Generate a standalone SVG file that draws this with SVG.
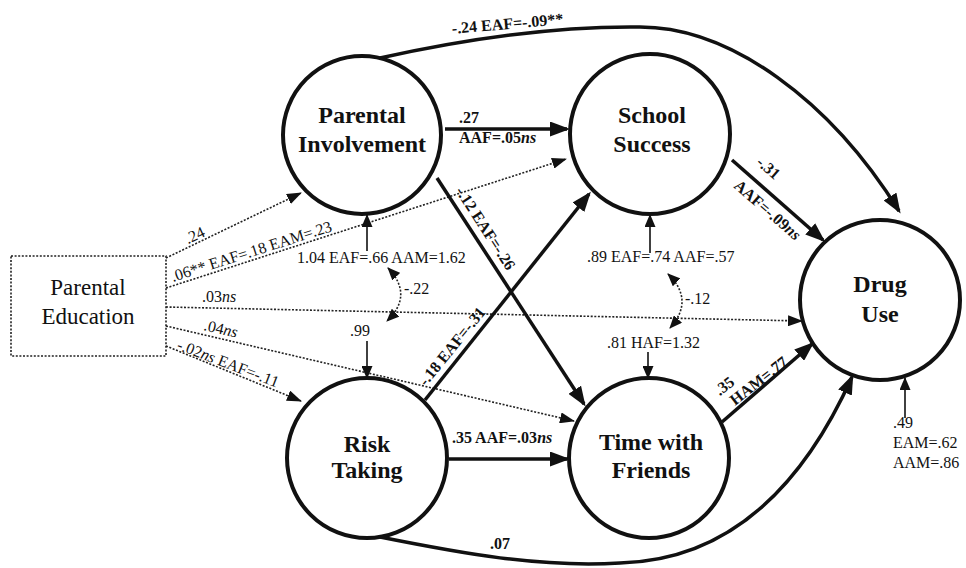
<svg xmlns="http://www.w3.org/2000/svg" width="966" height="568" viewBox="0 0 966 568" font-family="'Liberation Serif', 'DejaVu Serif', serif">
<style>
text{font-family:"Liberation Serif","DejaVu Serif",serif;fill:#111}
.node{fill:#fff;stroke:#111;stroke-width:4}
.nl{font-size:24px;font-weight:bold;text-anchor:middle}
.pl{font-size:23px;text-anchor:middle}
.bold{fill:none;stroke:#111;stroke-width:3.5}
.dot{fill:none;stroke:#222;stroke-width:1.6;stroke-dasharray:2 1.6}
.err{fill:none;stroke:#111;stroke-width:1.6}
.lb{font-size:16px;font-weight:bold}
.lr{font-size:16px}
.i{font-style:italic}
</style>
<defs>
<marker id="ab" markerUnits="userSpaceOnUse" markerWidth="20" markerHeight="15" refX="17" refY="7.5" orient="auto"><path d="M0,0 L20,7.5 L0,15 z" fill="#111"/></marker>
<marker id="ad" markerUnits="userSpaceOnUse" markerWidth="15" markerHeight="11" refX="14" refY="5.5" orient="auto"><path d="M0,0 L15,5.5 L0,11 z" fill="#111"/></marker>
<marker id="ae" markerUnits="userSpaceOnUse" markerWidth="13" markerHeight="11" refX="12" refY="5.5" orient="auto-start-reverse"><path d="M0,0 L13,5.5 L0,11 z" fill="#111"/></marker>
</defs>

<g id="parental-education">
<rect x="11" y="256" width="155" height="100" fill="#fff" stroke="#222" stroke-width="1.6" stroke-dasharray="2 1.6"/>
<text class="pl" x="88" y="295">Parental</text>
<text class="pl" x="88" y="324">Education</text>
</g>
<g id="parental-involvement">
<circle class="node" cx="362" cy="135" r="79"/>
<text class="nl" x="362" y="123">Parental</text>
<text class="nl" x="362" y="152">Involvement</text>
</g>
<g id="school-success">
<circle class="node" cx="650" cy="134" r="80"/>
<text class="nl" x="652" y="123">School</text>
<text class="nl" x="652" y="152">Success</text>
</g>
<g id="risk-taking">
<circle class="node" cx="367" cy="458" r="80"/>
<text class="nl" x="367" y="452">Risk</text>
<text class="nl" x="367" y="478">Taking</text>
</g>
<g id="time-with-friends">
<circle class="node" cx="649" cy="458" r="80"/>
<text class="nl" x="651" y="450">Time with</text>
<text class="nl" x="651" y="478">Friends</text>
</g>
<g id="drug-use">
<circle class="node" cx="880" cy="300" r="80"/>
<text class="nl" x="880" y="292">Drug</text>
<text class="nl" x="880" y="322">Use</text>
</g>

<g id="connectors">
<path class="dot" d="M166 258 L301 193" marker-end="url(#ad)"/>
<path class="dot" d="M166 288 L566 159" marker-end="url(#ad)"/>
<path class="dot" d="M166 307 L802 321" marker-end="url(#ad)"/>
<path class="dot" d="M166 326 L574 421" marker-end="url(#ad)"/>
<path class="dot" d="M166 346 L301 401" marker-end="url(#ad)"/>
<path class="bold" d="M445 129 L567 129" marker-end="url(#ab)"/>
<path class="bold" d="M437 178 L584 404" marker-end="url(#ab)"/>
<path class="bold" d="M732 160 L823 240" marker-end="url(#ab)"/>
<path class="bold" d="M425 400 L589 194" marker-end="url(#ab)"/>
<path class="bold" d="M449 459 L567 459" marker-end="url(#ab)"/>
<path class="bold" d="M722 422 L812 344" marker-end="url(#ab)"/>
<path class="bold" d="M380 58 C470 38 560 26 640 27 C730 27 830 100 899 211" marker-end="url(#ab)"/>
<path class="bold" d="M380 537 C460 553 540 568 620 563 C740 560 810 470 852 377" marker-end="url(#ab)"/>
<path class="err" d="M367 251 L367 215" marker-end="url(#ae)"/>
<path class="err" d="M367 341 L367 378" marker-end="url(#ae)"/>
<path class="err" d="M650 253 L650 215" marker-end="url(#ae)"/>
<path class="err" d="M648 352 L648 378" marker-end="url(#ae)"/>
<path class="err" d="M905 418 L905 378" marker-end="url(#ae)"/>
<path class="dot" d="M388 268 Q414 295 387 321" marker-start="url(#ae)" marker-end="url(#ae)"/>
<path class="dot" d="M668 274 Q695 300 670 328" marker-start="url(#ae)" marker-end="url(#ae)"/>
</g>

<g id="labels">
<text class="lb" x="508" y="29" text-anchor="middle" transform="rotate(-5 508 29)">-.24 EAF=-.09**</text>
<text class="lb" x="459" y="123">.27</text>
<text class="lb" x="459" y="143">AAF=.05<tspan class="i">ns</tspan></text>
<text class="lb" x="455" y="191" transform="rotate(57 455 191)">-.12 EAF=-.26</text>
<text class="lb" x="765" y="172" text-anchor="middle" transform="rotate(41 765 172)">-.31</text>
<text class="lb" x="764" y="214" text-anchor="middle" transform="rotate(41 764 214)">AAF=-.09<tspan class="i">ns</tspan></text>
<text class="lb" x="426" y="387" transform="rotate(-51 426 387)">-.18 EAF=-.31</text>
<text class="lb" x="452" y="443">.35 AAF=.03<tspan class="i">ns</tspan></text>
<g transform="translate(735 406) rotate(-38)">
<text class="lb" x="-6" y="-17">.35</text>
<text class="lb" x="0" y="0">HAM=.77</text>
</g>
<text class="lb" x="490" y="549">.07</text>

<text class="lr" x="197" y="240" text-anchor="middle" transform="rotate(-25 197 240)">.24</text>
<text class="lr" x="173" y="282" transform="rotate(-17.7 173 282)">.06** EAF=.18 EAM=.23</text>
<text class="lr" x="202" y="302">.03<tspan class="i">ns</tspan></text>
<text class="lr" x="203" y="330" transform="rotate(13 203 330)">.04<tspan class="i">ns</tspan></text>
<text class="lr" x="176" y="349" transform="rotate(21 176 349)">-.02<tspan class="i">ns</tspan> EAF=-.11</text>

<text class="lr" x="297" y="263">1.04 EAF=.66 AAM=1.62</text>
<text class="lr" x="350" y="336">.99</text>
<text class="lr" x="404" y="294">-.22</text>
<text class="lr" x="587" y="262">.89 EAF=.74 AAF=.57</text>
<text class="lr" x="685" y="304">-.12</text>
<text class="lr" x="607" y="348">.81 HAF=1.32</text>
<text class="lr" x="893" y="428">.49</text>
<text class="lr" x="893" y="448">EAM=.62</text>
<text class="lr" x="893" y="468">AAM=.86</text>
</g>
</svg>
